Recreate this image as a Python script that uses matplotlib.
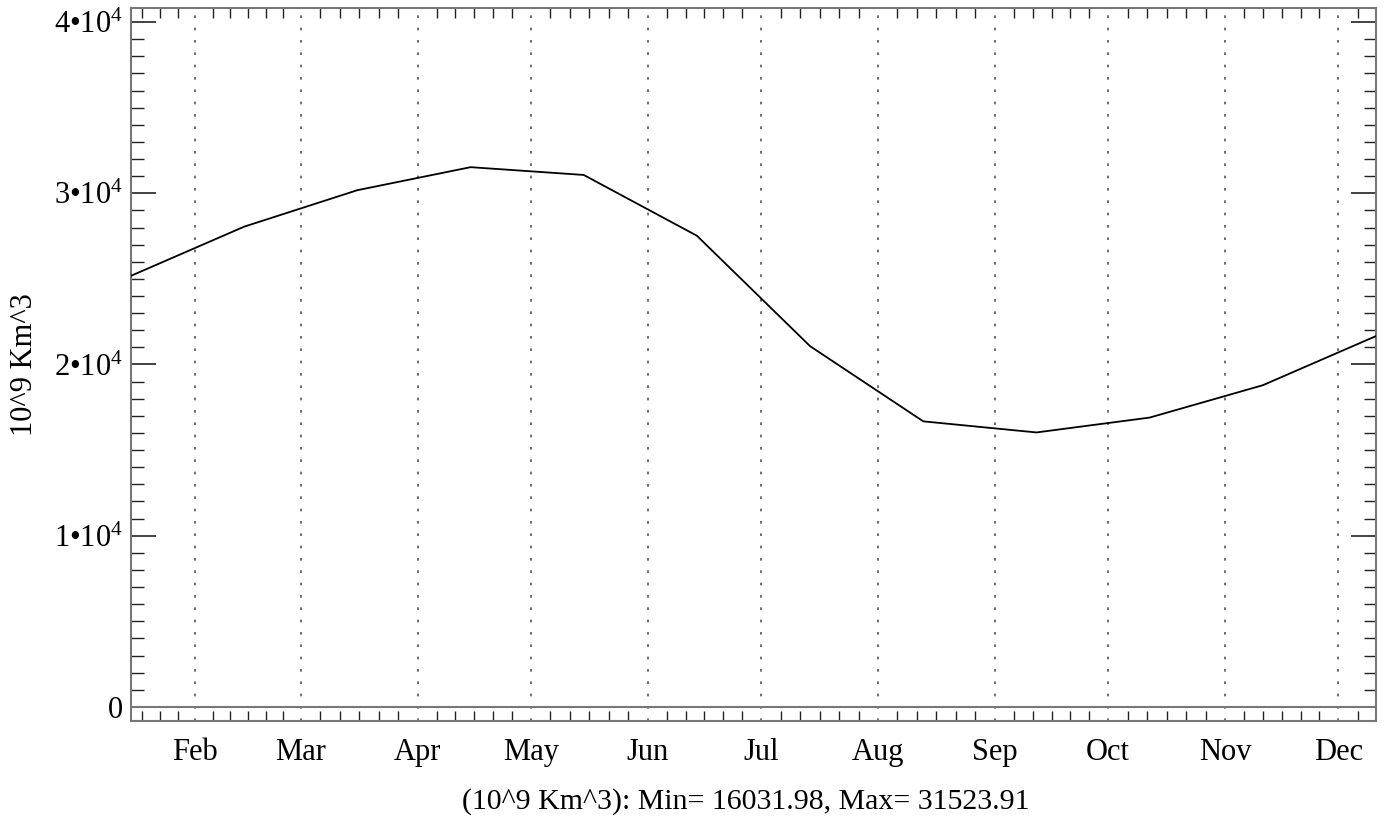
import matplotlib
matplotlib.use("Agg")
import matplotlib.pyplot as plt
from matplotlib.ticker import FixedLocator, FuncFormatter, MultipleLocator

plt.rcParams['font.family'] = ['Liberation Serif', 'DejaVu Serif']
plt.rcParams['mathtext.fontset'] = 'custom'
plt.rcParams['mathtext.rm'] = 'Liberation Serif'
plt.rcParams['mathtext.default'] = 'regular'

# Data: monthly values (10^9 Km^3), plotted at day-of-year
days = [15, 45, 75, 105, 135, 165, 195, 225, 255, 285, 315, 345]
values = [25180, 28050, 30180, 31523.91, 31070, 27520, 21070, 16680, 16031.98, 16900, 18790, 21660]

month_labels = ['Feb', 'Mar', 'Apr', 'May', 'Jun', 'Jul', 'Aug', 'Sep', 'Oct', 'Nov', 'Dec']
month_starts = [32, 60, 91, 121, 152, 182, 213, 244, 274, 305, 335]
month_lengths = [28, 31, 30, 31, 30, 31, 31, 30, 31, 30, 31]

ylabel = '10^9 Km^3'
caption = '(10^9 Km^3): Min= 16031.98, Max= 31523.91'

W, H = 1387, 827
fig = plt.figure(figsize=(W / 100, H / 100), dpi=100)
ax = fig.add_axes([131 / W, 1 - 721 / H, (1376 - 131) / W, (721 - 8) / H])

ax.plot(days, values, color='black', lw=1.3, zorder=3)

ax.set_xlim(15, 345)
ax.set_ylim(-820, 40820)

grid_col = '#555555'
for m in month_starts:
    ax.axvline(m, color=grid_col, lw=1.2, linestyle=(0, (1.6, 5.8)), zorder=1)
ax.axhline(0, color='#777777', lw=1.5, zorder=2)

# x ticks
ax.xaxis.set_major_locator(FixedLocator(month_starts))
ax.set_xticklabels(month_labels)
minor_x = []
for k in (1, 2, 3):
    minor_x.append(month_starts[0] - k * month_lengths[0] / 6)
for s, L in zip(month_starts, month_lengths):
    for k in range(1, 6):
        v = s + k * L / 6
        if v < 345:
            minor_x.append(v)
ax.xaxis.set_minor_locator(FixedLocator(minor_x))
ax.tick_params(axis='x', which='major', length=0, pad=12, labelsize=22, top=True)
ax.tick_params(axis='x', which='minor', length=7.5, width=1.0, direction='in',
               color='#222222', top=True, bottom=True)

# y ticks
ax.yaxis.set_major_locator(MultipleLocator(10000))
ax.yaxis.set_minor_locator(MultipleLocator(1000))


def yfmt(v, pos):
    k = int(round(v / 10000))
    if k == 0:
        return '0'
    return f'{k}•10$^{{4}}$'


ax.yaxis.set_major_formatter(FuncFormatter(yfmt))
ax.tick_params(axis='y', which='major', length=18, width=1.2, direction='in',
               color='#222222', left=True, right=True, labelsize=22, pad=6)
ax.tick_params(axis='y', which='minor', length=9, width=1.0, direction='in',
               color='#222222', left=True, right=True)

for sp in ax.spines.values():
    sp.set_color('#777777')
    sp.set_linewidth(1.5)

ax.set_ylabel(ylabel, fontsize=22)
ax.yaxis.set_label_coords(-(131 - 39) / (1376 - 131), 0.5)
fig.text(746 / W, 1 - 802 / H, caption, ha='center', va='center', fontsize=21.5)

fig.savefig('out.png', dpi=100)
